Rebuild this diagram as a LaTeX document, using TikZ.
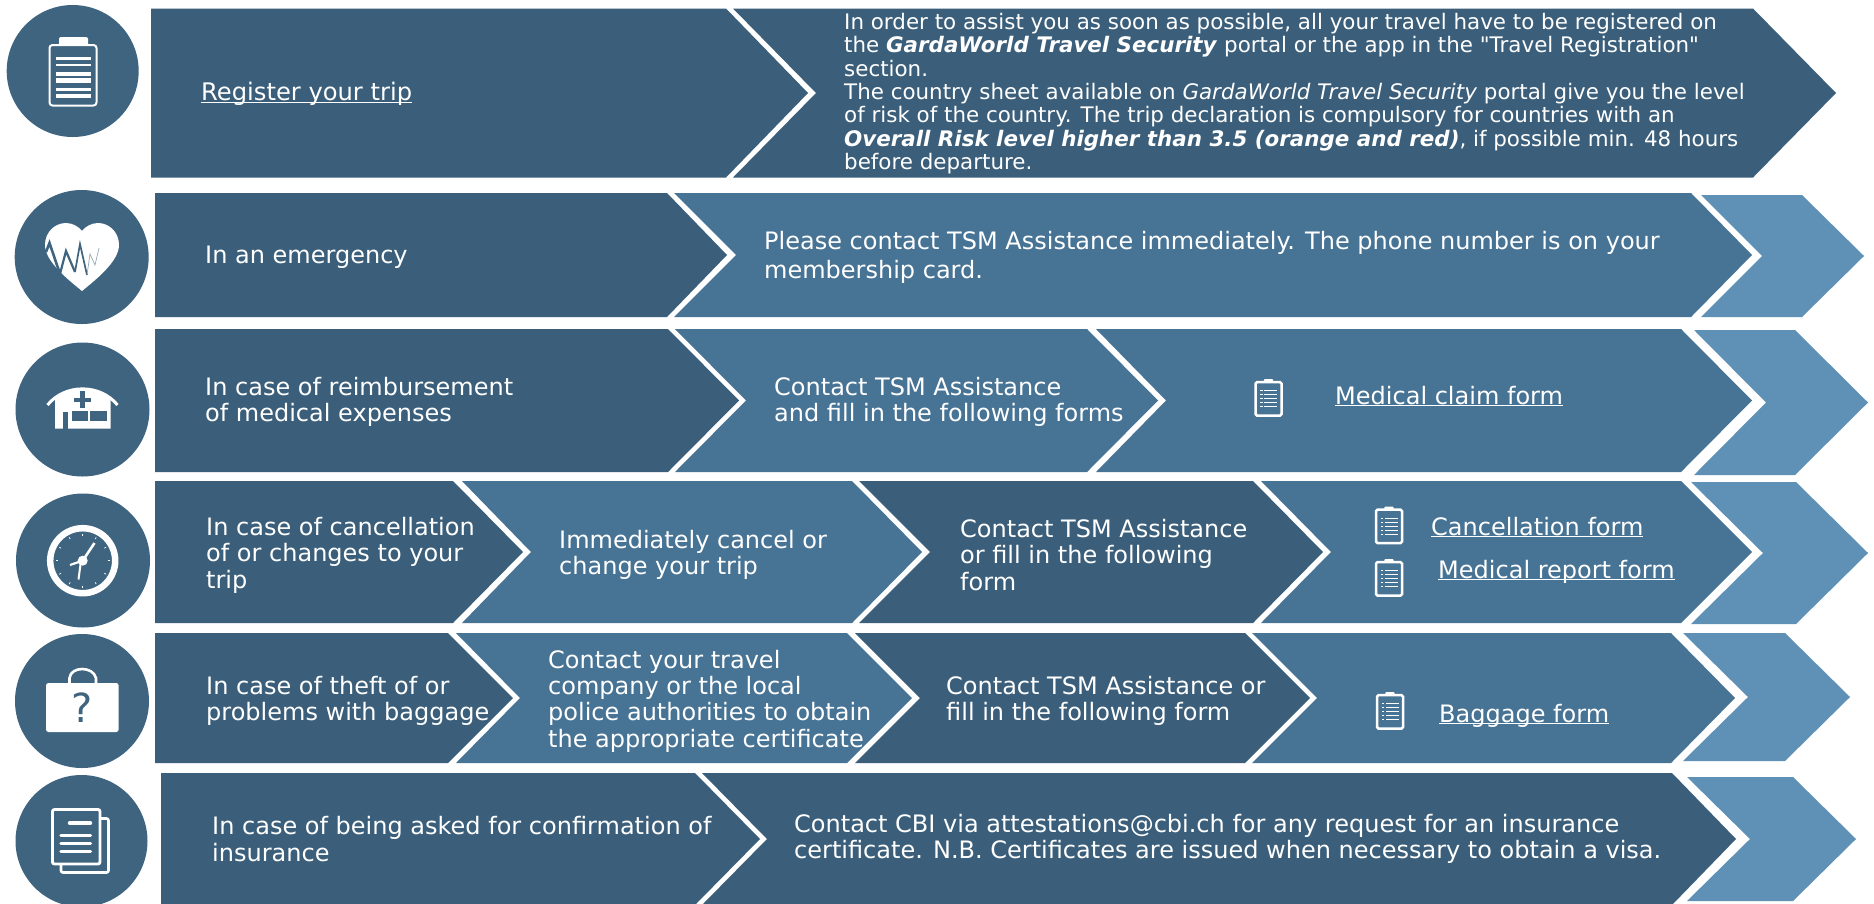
\documentclass[tikz,border=0pt]{standalone}
\usepackage{fontspec}
\setmainfont{DejaVu Sans}
\newfontfamily\plainq{DejaVu Sans}
\definecolor{cdark}{HTML}{3B5F7A}
\definecolor{cmid}{HTML}{477395}
\definecolor{clight}{HTML}{5F90B5}
\definecolor{ccirc}{HTML}{3F6480}
\newcommand{\ulx}[1]{\underline{\smash{#1}}\vphantom{Ag}}
% chevron: colour, left x, notch x, flat x, tip x, top y, bottom y
\newcommand{\chevshape}[7]{\fill[#1] (#2,#6) -- (#4,#6) -- (#5,{(#6+#7)/2}) -- (#4,#7) -- (#2,#7) -- (#3,{(#6+#7)/2}) -- cycle;}
\tikzset{x=1pt,y=-1pt,
 lbl/.style={anchor=west,inner sep=0pt,align=left,text=white},
 big/.style={font=\fontsize{24pt}{26.4pt}\selectfont},
 sml/.style={font=\fontsize{21.4pt}{23.4pt}\selectfont},
 disc/.style={circle,fill=ccirc,inner sep=0pt,minimum size=#1}}
\begin{document}
\begin{tikzpicture}
\clip (0,0) rectangle (1874,903);
\fill[white] (0,0) rectangle (1874,903);
% row 1
\chevshape{cdark}{151}{151}{726}{808}{8.5}{177.5}
\chevshape{cdark}{733}{816}{1753}{1836}{8.5}{177.5}
% row 2
\chevshape{cdark}{155}{155}{667}{727}{193}{317}
\chevshape{cmid}{674}{736}{1691}{1752}{193}{317}
\chevshape{clight}{1701}{1762}{1802}{1864}{195}{317}
% row 3
\chevshape{cdark}{155}{155}{668}{739}{329}{472}
\chevshape{cmid}{675}{746}{1087}{1158}{329}{472}
\chevshape{cmid}{1096}{1166}{1681}{1752}{329}{472}
\chevshape{clight}{1694}{1766}{1795}{1868}{330}{475}
% row 4
\chevshape{cdark}{155}{155}{453}{523}{481}{623}
\chevshape{cmid}{462}{531}{852}{922}{481}{623}
\chevshape{cdark}{859}{930}{1253}{1323}{481}{623}
\chevshape{cmid}{1261}{1331}{1681}{1752}{481}{623}
\chevshape{clight}{1691}{1763}{1796}{1868}{482}{624}
% row 5
\chevshape{cdark}{155}{155}{448}{513}{633}{763}
\chevshape{cmid}{456}{520}{847}{912}{633}{763}
\chevshape{cdark}{855}{920}{1245}{1310}{633}{763}
\chevshape{cmid}{1252}{1317}{1671}{1735}{633}{763}
\chevshape{clight}{1683}{1748}{1785}{1850}{633}{761}
% row 6
\chevshape{cdark}{161}{161}{695}{760}{773}{905}
\chevshape{cdark}{702}{767}{1672}{1736}{773}{905}
\chevshape{clight}{1687}{1750}{1793}{1856}{777}{901}
% discs
\node[disc=132pt] (c1) at (72.7,71) {};
\node[disc=134pt] (c2) at (81.7,257) {};
\node[disc=134pt] (c3) at (82.5,409.5) {};
\node[disc=134pt] (c4) at (83,560.5) {};
\node[disc=134pt] (c5) at (82,701) {};
\node[disc=132pt] (c6) at (81.5,841) {};
% icon 1 clipboard
\fill[white,rounded corners=2pt] (59,37) rectangle (88,46);
\draw[white,line width=2pt,fill=ccirc,rounded corners=3pt] (49.5,45) rectangle (96.5,105.5);
\foreach \yy/\hh in {58.5/3,65/1.5,74/4,80/5,89.5/3,96/4}{\fill[white] (56,\yy-\hh/2) rectangle (91,\yy+\hh/2);}
% icon 2 heart
\fill[white] (82,291) .. controls (70,281) and (45,262) .. (45,245) .. controls (45,232) and (55,223) .. (66,223) .. controls (73,223) and (79,227) .. (82,231) .. controls (85,227) and (91,223) .. (98,223) .. controls (109,223) and (119,232) .. (119,245) .. controls (119,262) and (94,281) .. (82,291) -- cycle;
\draw[ccirc,line width=2.6pt] (46,252) -- (49.5,243) -- (60,274);
\draw[ccirc,line width=2.2pt] (60,274) -- (66,251) -- (75,272);
\draw[ccirc,line width=1.7pt] (75,272) -- (80,244) -- (87,275);
\draw[ccirc!55,line width=.7pt] (87,275) -- (90,254) -- (95,265) -- (99,248);
% icon 3 hospital
\draw[white,line width=3pt] (47.5,405) .. controls (65,383.5) and (100,383.5) .. (117.5,405);
\fill[white] (55,397) .. controls (70,386) and (95,386) .. (110.5,397) -- (110.5,428.5) -- (55,428.5) -- cycle;
\fill[ccirc] (62.5,412) rectangle (67.5,428.5);
\fill[ccirc] (71.5,411) rectangle (87.5,421);
\fill[ccirc] (90,411) rectangle (107,421);
\fill[ccirc] (73.5,397.5) rectangle (91,401.5);
\fill[ccirc] (80,391) rectangle (84.5,408);
% icon 4 clock
\draw[white,line width=6.5pt] (82.7,560.7) circle (32.5);
\foreach \a in {0,30,...,330}{\draw[white,line width=.7pt] (82.7,560.7) ++(\a:25) -- ++(\a:2);}
\fill[white] (82.7,560.7) circle (5);
\draw[white,line width=2.6pt] (82.7,560.7) -- (94.5,543);
\draw[white,line width=2.2pt] (82.7,560.7) -- (70,565);
\draw[white,line width=2pt] (81,560.7) -- (78.5,579.5);
% icon 5 baggage
\draw[white,line width=2.6pt] (69.5,684) -- (69.5,678) .. controls (71,666) and (93,666) .. (96,678) -- (96,684);
\fill[white,rounded corners=2.5pt] (46,683) rectangle (118.7,732);
\node[inner sep=0pt,text=ccirc,font=\fontsize{40pt}{40pt}\selectfont] (qm) at (82.5,708) {?};
% icon 6 documents
\draw[white,line width=2.6pt,rounded corners=2pt] (100,818.5) -- (108.5,818.5) -- (108.5,872.5) -- (61,872.5) -- (61,864);
\draw[white,line width=2.8pt,rounded corners=2pt] (52.5,809.5) rectangle (100,864);
\draw[white,line width=3.4pt,line cap=round] (69.5,823) -- (90.5,823);
\foreach \yy in {835.5,843.5,851.5}{\draw[white,line width=3.4pt,line cap=round] (61,\yy) -- (90.5,\yy);}
% small clipboards
\foreach \cx/\cy in {1268.5/398,1389/525.5,1389/578,1390/711}{
 \begin{scope}[shift={(\cx,\cy)}]
  \fill[white,rounded corners=1pt] (-4.7,-19) rectangle (4.7,-15);
  \draw[white,line width=2.5pt,rounded corners=1.5pt,fill=cmid] (-13,-15.8) rectangle (13,17.5);
  \foreach \yy in {-8,-4,0,4,8}{\fill[white] (-4.2,\yy) rectangle (8.8,\yy+1.4);\fill[white] (-8.5,\yy) rectangle (-6,\yy+1.4);}
 \end{scope}}
% text row 1
\node[lbl,font=\fontsize{24.2pt}{26pt}\selectfont] (t1a) at (201,94.5) {\ulx{Register your trip}};
\node[lbl,sml] (t1b) at (844,93.5) {In order to assist you as soon as possible, all your travel have to be registered on\\
the \textbf{\textit{GardaWorld Travel Security}} portal or the app in the {\plainq"}Travel Registration{\plainq"}\\
section.\\
The country sheet available on \textit{GardaWorld Travel Security} portal give you the level\\
of risk of the country. The trip declaration is compulsory for countries with an\\
\textbf{\textit{Overall Risk level higher than 3.5 (orange and red)}}, if possible min. 48 hours\\
before departure.};
% row 2
\node[lbl,big] (t2a) at (205,257) {In an emergency};
\node[lbl,font=\fontsize{24pt}{29pt}\selectfont] (t2b) at (764,257.5) {Please contact TSM Assistance immediately. The phone number is on your\\membership card.};
% row 3
\node[lbl,big] (t3a) at (205,402) {In case of reimbursement\\of medical expenses};
\node[lbl,big] (t3b) at (774,402) {Contact TSM Assistance\\and fill in the following forms};
\node[lbl,big] (t3c) at (1335,398) {\ulx{Medical claim form}};
% row 4
\node[lbl,big] (t4a) at (206,555) {In case of cancellation\\of or changes to your\\trip};
\node[lbl,big] (t4b) at (559,555) {Immediately cancel or\\change your trip};
\node[lbl,big] (t4c) at (960,555) {Contact TSM Assistance\\or fill in the following\\form};
\node[lbl,big] (t4d) at (1431,529) {\ulx{Cancellation form}};
\node[lbl,big] (t4e) at (1438,572) {\ulx{Medical report form}};
% row 5
\node[lbl,big] (t5a) at (206,701) {In case of theft of or\\problems with baggage};
\node[lbl,big] (t5b) at (548,701) {Contact your travel\\company or the local\\police authorities to obtain\\the appropriate certificate};
\node[lbl,big] (t5c) at (946,701) {Contact TSM Assistance or\\fill in the following form};
\node[lbl,big] (t5d) at (1439,716) {\ulx{Baggage form}};
% row 6
\node[lbl,big] (t6a) at (212,839) {In case of being asked for confirmation of\\insurance};
\node[lbl,big] (t6b) at (794,839) {Contact CBI via attestations@cbi.ch for any request for an insurance\\certificate. N.B. Certificates are issued when necessary to obtain a visa.};
\end{tikzpicture}
\end{document}
